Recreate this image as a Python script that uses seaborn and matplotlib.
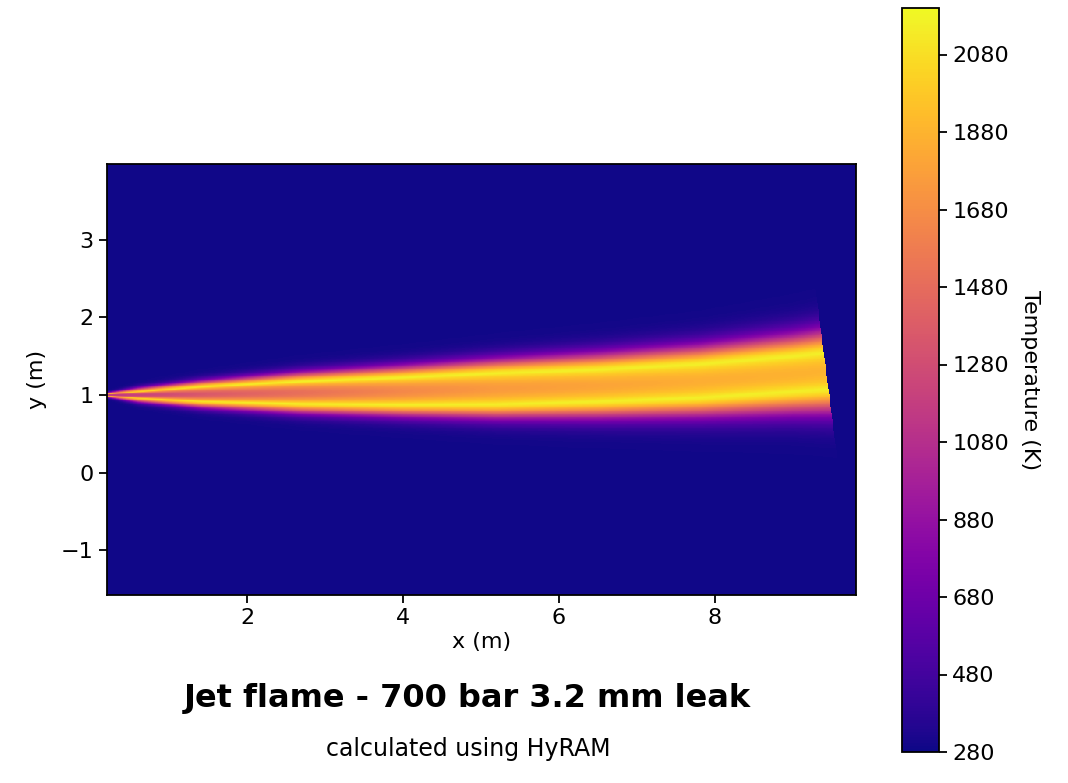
import numpy as np
import pandas as pd
import matplotlib
matplotlib.use("Agg")
import matplotlib.pyplot as plt
import seaborn as sns

# ---- values ----
# stations along the flame axis (m)
station_x = [0.2, 0.6, 1.4, 2.7, 4.0, 5.2, 6.5, 7.8, 9.0, 9.6]
# flame centre-line height (m)
center_y = [1.0, 1.0, 1.01, 1.03, 1.05, 1.08, 1.12, 1.18, 1.27, 1.32]
# half distance between the two hot ridges (m)
half_width = [0.01, 0.04, 0.09, 0.14, 0.17, 0.195, 0.20, 0.21, 0.22, 0.23]
# temperature on the centre line (K)
core_T = [1100, 1200, 1350, 1500, 1650, 1750, 1800, 1850, 1870, 1880]
# temperature on the hot ridges (K)
ridge_T = [1800, 2000, 2100, 2150, 2150, 2150, 2150, 2150, 2150, 2150]
# thickness of the outer glow (m)
halo_width = [0.02, 0.05, 0.08, 0.12, 0.15, 0.18, 0.21, 0.24, 0.28, 0.31]
ambient_T = 293
# flame tip cut line (x, y) top and bottom
tip_top = (9.32, 2.15)
tip_bottom = (9.51, 0.65)

x_range = (0.2, 9.81)
y_range = (-1.58, 3.98)
x_ticks = [2, 4, 6, 8]
y_ticks = [-1, 0, 1, 2, 3]
cbar_ticks = list(range(280, 2081, 200))
T_min, T_max = 280, 2200

# ---- build the temperature field ----
step = 0.01
nx = int(round((x_range[1] - x_range[0]) / step))
ny = int(round((y_range[1] - y_range[0]) / step))
xc = x_range[0] + (np.arange(nx) + 0.5) * step
yc = y_range[1] - (np.arange(ny) + 0.5) * step  # top row first
X, Y = np.meshgrid(xc, yc)

YC = np.interp(X, station_x, center_y)
HW = np.interp(X, station_x, half_width)
TC = np.interp(X, station_x, core_T)
TR = np.interp(X, station_x, ridge_T)
HS = np.interp(X, station_x, halo_width)

r = np.abs(Y - YC)
T_in = TC + (TR - TC) * (r / HW) ** 2
T_out = ambient_T + (TR - ambient_T) * np.exp(-((r - HW) / HS) ** 1.8)
T = np.where(r <= HW, T_in, T_out)
x_cut = tip_top[0] + (tip_top[1] - Y) * (tip_bottom[0] - tip_top[0]) / (tip_top[1] - tip_bottom[1])
T = np.where(X > x_cut, ambient_T, T)

df = pd.DataFrame(T, index=np.round(yc, 3), columns=np.round(xc, 3))

# ---- figure ----
W, H = 1068, 783
fig = plt.figure(figsize=(W / 100, H / 100), dpi=100)
ax = fig.add_axes([107 / W, 1 - 595 / H, 749 / W, 431 / H])
cax = fig.add_axes([902 / W, 1 - 752 / H, 37 / W, 744 / H])

sns.heatmap(df, ax=ax, cmap="plasma", vmin=T_min, vmax=T_max, cbar_ax=cax,
            xticklabels=False, yticklabels=False, rasterized=True)

ax.set_xticks([(v - x_range[0]) / step for v in x_ticks])
ax.set_xticklabels([str(v) for v in x_ticks])
ax.set_yticks([(y_range[1] - v) / step for v in y_ticks])
ax.set_yticklabels([str(v).replace("-", "\u2212") for v in y_ticks])
for s in ax.spines.values():
    s.set_visible(True)
    s.set_linewidth(1.3)
    s.set_edgecolor("black")
ax.tick_params(length=6, width=1.3, labelsize=16, direction="out", color="black")
ax.set_xlabel("x (m)", fontsize=16, labelpad=3)
ax.set_ylabel("y (m)", fontsize=16, labelpad=10)

cb = ax.collections[0].colorbar
cb.set_ticks(cbar_ticks)
cb.set_ticklabels([str(t) for t in cbar_ticks])
cb.outline.set_visible(True)
cb.outline.set_linewidth(1.3)
cb.outline.set_edgecolor("black")
cax.tick_params(labelsize=16, length=6, width=1.3)
cb.set_label("Temperature (K)", rotation=270, fontsize=16, labelpad=22)

fig.text(0.438, 0.108, "Jet flame - 700 bar 3.2 mm leak", ha="center", va="center",
         fontsize=23, fontweight="bold", family="DejaVu Sans")
fig.text(0.438, 0.043, "calculated using HyRAM", ha="center", va="center",
         fontsize=17, family="DejaVu Sans")

fig.savefig("out.png", dpi=100)
